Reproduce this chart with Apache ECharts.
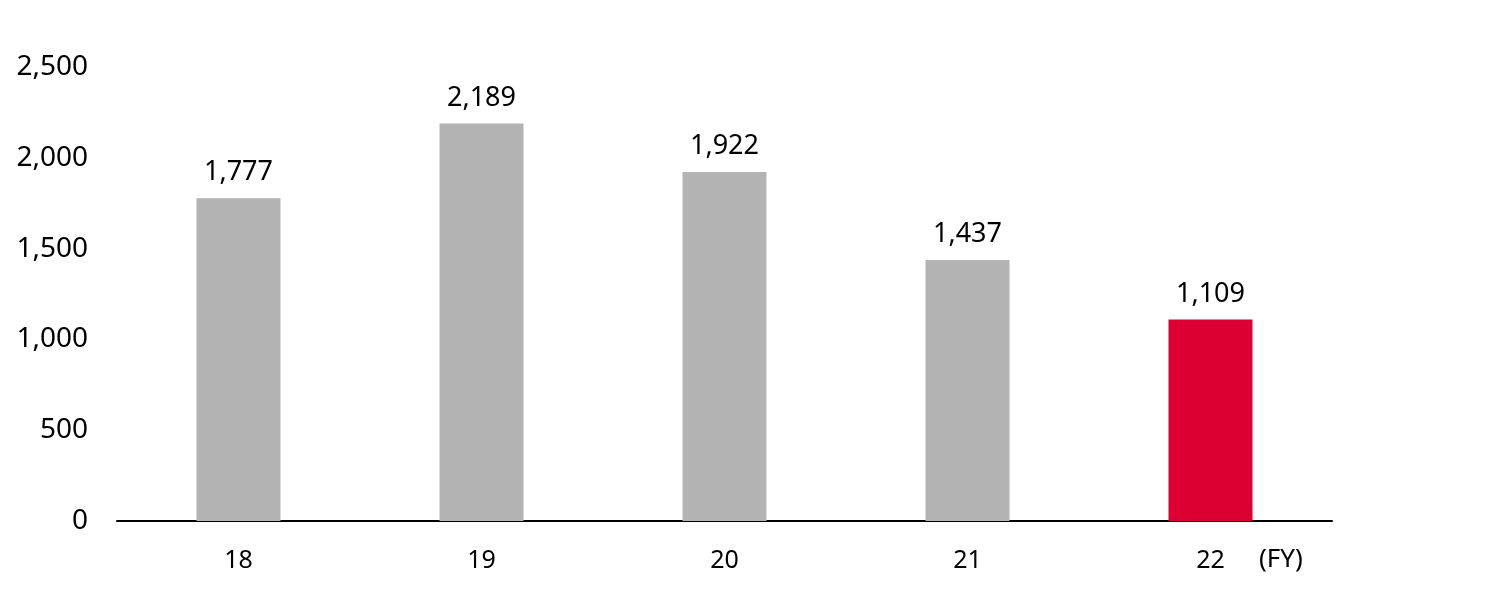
<!DOCTYPE html>
<html lang="en">
<head>
    <meta charset="UTF-8">
    <title>FY chart</title>
    <style>
        html, body { margin: 0; padding: 0; background: #fff; }
        #main { width: 1500px; height: 594px; }
    </style>
</head>
<body>
<div id="main"></div>
<script src="https://cdn.jsdelivr.net/npm/echarts@6/dist/echarts.min.js"></script>
<script>
    var years = ['18', '19', '20', '21', '22'];
    var values = [1777, 2189, 1922, 1437, 1109];
    var barColors = ['#b3b3b3', '#b3b3b3', '#b3b3b3', '#b3b3b3', '#dc0032'];

    var font = '"Noto Sans", "Open Sans", sans-serif';

    var chart = echarts.init(document.getElementById('main'));

    function fmt(v) {
        return String(v).replace(/\B(?=(\d{3})+(?!\d))/g, ',');
    }

    var option = {
        animation: false,
        grid: { left: 117, right: 168, top: 67, bottom: 73, containLabel: false },
        xAxis: {
            type: 'category',
            data: years,
            axisLine: { lineStyle: { color: '#000', width: 2 } },
            axisTick: { show: false },
            axisLabel: { color: '#000', fontSize: 25, fontFamily: font, margin: 27 }
        },
        yAxis: {
            type: 'value',
            min: 0,
            max: 2500,
            interval: 500,
            splitLine: { show: false },
            axisLine: { show: false },
            axisTick: { show: false },
            axisLabel: {
                color: '#000', fontSize: 28, fontFamily: font, margin: 29,
                formatter: function (v) { return fmt(v); }
            }
        },
        // (FY) note next to last category
        graphic: [{
            type: 'text',
            left: 1259,
            top: 547,
            style: { text: '(FY)', fill: '#000', fontSize: 26, fontFamily: font }
        }],
        series: [{
            type: 'bar',
            barWidth: 84,
            data: values.map(function (v, i) {
                return { value: v, itemStyle: { color: barColors[i] } };
            }),
            label: {
                show: true,
                position: 'top',
                distance: 12,
                color: '#000',
                fontSize: 27,
                fontFamily: font,
                formatter: function (p) { return fmt(p.value); }
            }
        }]
    };

    chart.setOption(option);
</script>
</body>
</html>
